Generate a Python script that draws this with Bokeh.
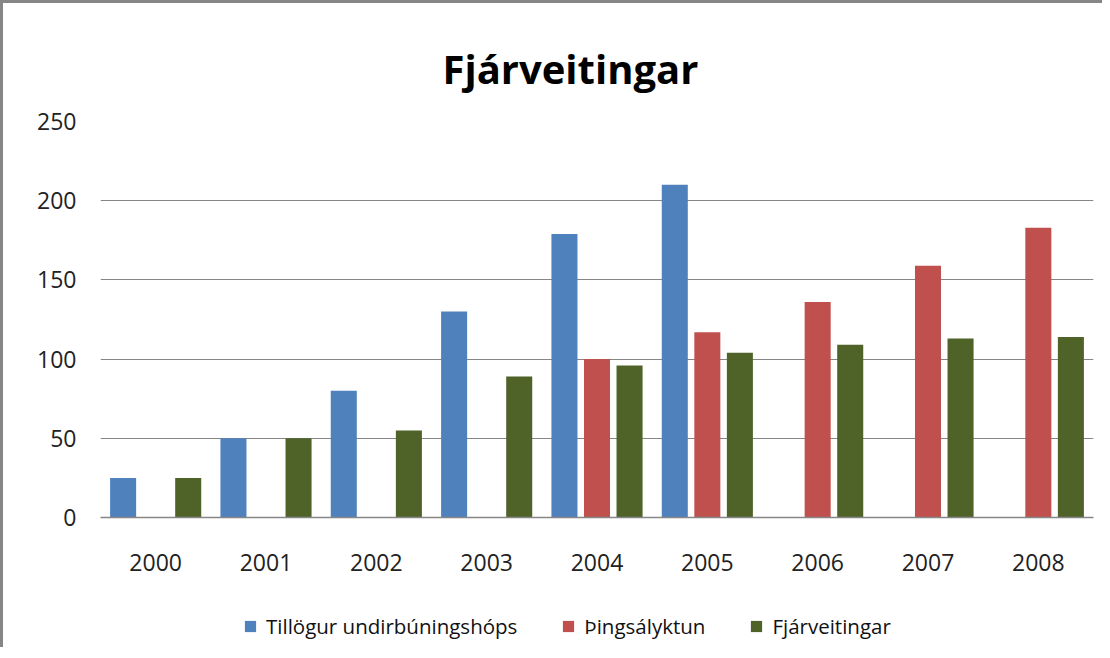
from bokeh.plotting import figure
from bokeh.layouts import column
from bokeh.models import FactorRange, Range1d, Legend, LegendItem, ColumnDataSource
from bokeh.transform import dodge
from bokeh.embed import file_html
from bokeh.resources import INLINE

years = ["2000", "2001", "2002", "2003", "2004", "2005", "2006", "2007", "2008"]
tillogur = [25, 50, 80, 130, 179, 210, None, None, None]
thingsalyktun = [None, None, None, None, 100, 117, 136, 159, 183]
fjarveitingar = [25, 50, 55, 89, 96, 104, 109, 113, 114]
series_names = ["Tillögur undirbúningshóps", "Þingsályktun", "Fjárveitingar"]
colors = ["#4F81BD", "#C0504D", "#4F6228"]
y_ticks = [0, 50, 100, 150, 200, 250]
title_text = "Fjárveitingar"

FONT = "Open Sans"
BORDER = "3px solid #868686"

x_range = FactorRange(*years)

p = figure(x_range=x_range, y_range=Range1d(0, 250),
           width=1102, height=590, output_backend="svg", toolbar_location=None,
           min_border_left=97, min_border_right=12, min_border_top=118,
           min_border_bottom=76)
p.styles = {"border-left": BORDER, "border-top": BORDER}
p.outline_line_color = None
p.background_fill_color = "white"
p.border_fill_color = "white"

p.title.text = title_text
p.title.text_font = FONT
p.title.text_font_size = "40px"
p.title.text_font_style = "bold"
p.title.text_color = "#000000"
p.title.align = "left"
p.title.offset = 342
p.title.standoff = 51

# legend strip below the chart (its renderers are hidden; they only give legend swatches)
lf = figure(width=1102, height=57, output_backend="svg", toolbar_location=None,
            x_range=x_range, y_range=Range1d(0, 250),
            min_border_left=97, min_border_right=12, min_border_top=0, min_border_bottom=0)
lf.styles = {"border-left": BORDER}
lf.axis.visible = False
lf.grid.grid_line_color = None
lf.outline_line_color = None
lf.border_fill_color = "white"
lf.background_fill_color = "white"

offsets = [-0.295, 0.0, 0.295]
items = []
for name, vals, col, off in zip(series_names, [tillogur, thingsalyktun, fjarveitingar], colors, offsets):
    xs = [y for y, v in zip(years, vals) if v is not None]
    tops = [v for v in vals if v is not None]
    src = ColumnDataSource(dict(x=xs, top=tops))
    p.vbar(x=dodge("x", off, range=x_range), top="top", bottom=0, width=0.236,
           source=src, fill_color=col, line_color=None)
    r = lf.vbar(x=dodge("x", off, range=x_range), top="top", bottom=0, width=0.236,
                source=src, fill_color=col, line_color=None)
    r.visible = False
    items.append(LegendItem(label=name, renderers=[r]))

p.yaxis.ticker = y_ticks
p.yaxis.axis_line_color = None
p.yaxis.major_tick_line_color = None
p.yaxis.minor_tick_line_color = None
p.yaxis.major_label_standoff = 18
p.yaxis.major_label_text_font = FONT
p.yaxis.major_label_text_font_size = "23px"
p.yaxis.major_label_text_color = "#222222"

p.xaxis.axis_line_color = "#868686"
p.xaxis.axis_line_width = 1.5
p.xaxis.major_tick_line_color = None
p.xaxis.minor_tick_line_color = None
p.xaxis.major_label_standoff = 30
p.xaxis.major_label_text_font = FONT
p.xaxis.major_label_text_font_size = "23px"
p.xaxis.major_label_text_color = "#222222"

p.xgrid.grid_line_color = None
p.ygrid.grid_line_color = "#868686"
p.ygrid.grid_line_width = 1.2

legend = Legend(items=items, location=(143, 7), orientation="horizontal",
                glyph_width=14, glyph_height=14, label_standoff=9, spacing=44,
                padding=0, margin=0, border_line_color=None, background_fill_alpha=0,
                inactive_fill_alpha=0,
                label_text_font=FONT, label_text_font_size="20.5px", label_text_color="#111111",
                label_height=20)
lf.add_layout(legend, "center")

layout = column(p, lf, spacing=0)
open("out.html", "w").write(file_html(layout, INLINE))
